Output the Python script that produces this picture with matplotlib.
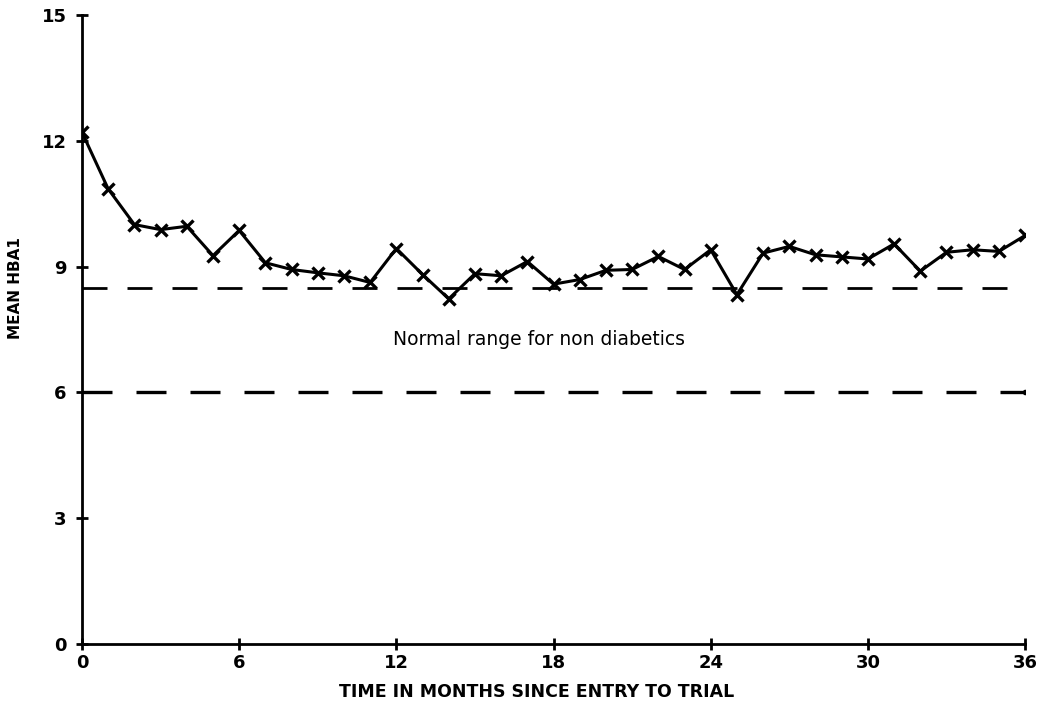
import matplotlib
matplotlib.use("Agg")
import matplotlib.pyplot as plt

months = list(range(37))
mean_hba1 = [12.2, 10.85, 10.0, 9.88, 9.96, 9.26, 9.86, 9.09, 8.93, 8.85,
             8.78, 8.62, 9.43, 8.81, 8.23, 8.83, 8.78, 9.12, 8.58, 8.69,
             8.91, 8.93, 9.24, 8.93, 9.40, 8.33, 9.32, 9.48, 9.28, 9.23,
             9.18, 9.54, 8.89, 9.34, 9.40, 9.36, 9.74]
normal_upper = 8.5
normal_lower = 6.0
x_ticks = [0, 6, 12, 18, 24, 30, 36]
y_ticks = [0, 3, 6, 9, 12, 15]

fig = plt.figure(figsize=(10.46, 7.07), dpi=100)
ax = fig.add_axes([0.0784, 0.089, 0.9016, 0.89])

dash = (0, (9, 7.2))
ax.plot([0, 36], [normal_upper, normal_upper], color='black', lw=2, linestyle=dash)
ax.plot([0, 36], [normal_lower, normal_lower], color='black', lw=2.4, linestyle=dash)
ax.plot([36], [normal_lower], 'o', color='black', ms=3)

ax.plot(months, mean_hba1, color='black', lw=2.2, marker='x', ms=9, mew=2.4)

ax.text(17.45, 7.26, 'Normal range for non diabetics', ha='center', va='center',
        fontsize=13.5)

ax.set_xlim(0, 36)
ax.set_ylim(0, 15)
ax.set_xticks(x_ticks)
ax.set_yticks(y_ticks)
ax.tick_params(direction='inout', length=8, width=2, labelsize=13)
for lab in ax.get_xticklabels() + ax.get_yticklabels():
    lab.set_fontweight('bold')
ax.tick_params(axis='y', pad=7)
ax.tick_params(axis='x', pad=3)

for side in ['top', 'right']:
    ax.spines[side].set_visible(False)
for side in ['left', 'bottom']:
    ax.spines[side].set_linewidth(2)

ax.set_xlabel('TIME IN MONTHS SINCE ENTRY TO TRIAL', fontsize=12.5, fontweight='bold')
ax.set_ylabel('MEAN HBA1', fontsize=11, fontweight='bold')
ax.xaxis.set_label_coords(0.4825, -0.062)
ax.yaxis.set_label_coords(-0.0626, 0.566)

fig.savefig('out.png', dpi=100)
